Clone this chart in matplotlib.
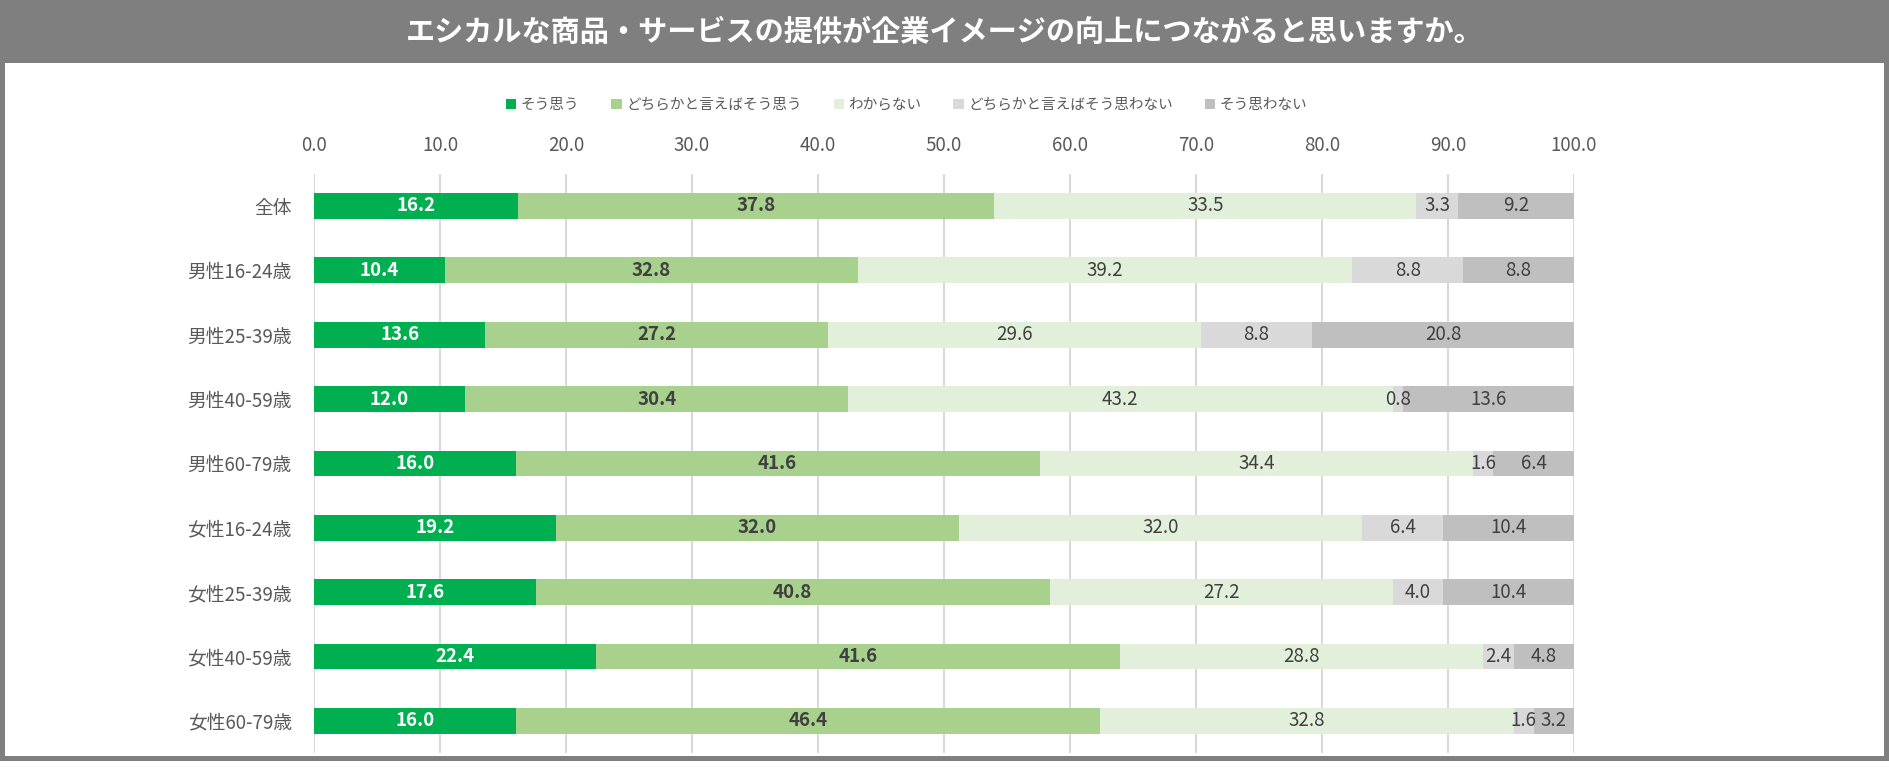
import numpy as np
import matplotlib
matplotlib.use("Agg")
import matplotlib.pyplot as plt
from matplotlib.patches import Rectangle

plt.rcParams['font.family'] = ['Noto Sans CJK JP', 'DejaVu Sans']

## data
title = "エシカルな商品・サービスの提供が企業イメージの向上につながると思いますか。"
groups = ["全体", "男性16-24歳", "男性25-39歳", "男性40-59歳", "男性60-79歳",
          "女性16-24歳", "女性25-39歳", "女性40-59歳", "女性60-79歳"]
series_names = ["そう思う", "どちらかと言えばそう思う", "わからない",
                "どちらかと言えばそう思わない", "そう思わない"]
sou_omou = [16.2, 10.4, 13.6, 12.0, 16.0, 19.2, 17.6, 22.4, 16.0]
dochira_sou = [37.8, 32.8, 27.2, 30.4, 41.6, 32.0, 40.8, 41.6, 46.4]
wakaranai = [33.5, 39.2, 29.6, 43.2, 34.4, 32.0, 27.2, 28.8, 32.8]
dochira_omowanai = [3.3, 8.8, 8.8, 0.8, 1.6, 6.4, 4.0, 2.4, 1.6]
omowanai = [9.2, 8.8, 20.8, 13.6, 6.4, 10.4, 10.4, 4.8, 3.2]
xticks = [0, 10, 20, 30, 40, 50, 60, 70, 80, 90, 100]

series = [sou_omou, dochira_sou, wakaranai, dochira_omowanai, omowanai]
colors = ["#00B050", "#A9D18E", "#E2EFDA", "#D9D9D9", "#BFBFBF"]
label_colors = ["white", "#404040", "#404040", "#404040", "#404040"]
label_weights = ["bold", "bold", "normal", "normal", "normal"]

W, H = 1889, 776
fig = plt.figure(figsize=(W / 100, H / 100), dpi=100)
fig.patch.set_facecolor("white")

## frame + title band
grey = "#7F7F7F"
def band(x, y, w, h):
    fig.add_artist(Rectangle((x / W, 1 - (y + h) / H), w / W, h / H,
                             transform=fig.transFigure, facecolor=grey,
                             edgecolor="none", zorder=0))

band(0, 0, W, 63)        # title band
band(0, 0, 5, 761)       # left edge
band(W - 5, 0, 5, 761)   # right edge
band(0, 756, W, 5)       # bottom edge
fig.text(0.5, 1 - 32 / H, title, color="white", fontsize=21, fontweight="bold",
         ha="center", va="center")

## plot area
x0, x1 = 314, 1574
ytop, ybot = 173.8, 753
ax = fig.add_axes([x0 / W, 1 - ybot / H, (x1 - x0) / W, (ybot - ytop) / H])

y = np.arange(len(groups))
left = np.zeros(len(groups))
handles = []
for vals, name, col, lc, lw in zip(series, series_names, colors, label_colors, label_weights):
    vals = np.array(vals)
    bars = ax.barh(y, vals, left=left, height=0.4, color=col, label=name, zorder=3)
    handles.append(bars)
    for yi, l, v in zip(y, left, vals):
        ax.text(l + v / 2, yi, f"{v:.1f}", ha="center", va="center", color=lc,
                fontsize=13.5, fontweight=lw, zorder=4)
    left += vals

ax.set_xlim(0, 100)
ax.set_ylim(len(groups) - 0.5, -0.5)
ax.set_yticks(y)
ax.set_yticklabels(groups)
ax.set_xticks(xticks)
ax.set_xticklabels([f"{t:.1f}" for t in xticks])
ax.xaxis.tick_top()
ax.tick_params(axis="x", length=0, pad=13, labelsize=13.5, labelcolor="#595959")
ax.tick_params(axis="y", length=0, pad=16, labelsize=13.5, labelcolor="#595959")
ax.grid(axis="x", color="#D9D9D9", linewidth=1.5, zorder=0)
ax.set_axisbelow(True)
for s in ax.spines.values():
    s.set_visible(False)

fig.legend(handles=handles, labels=series_names, loc="center", ncol=5,
           bbox_to_anchor=(0.48, 1 - 105 / H), frameon=False, fontsize=10.5,
           handlelength=0.7, handleheight=0.7, handletextpad=0.3,
           columnspacing=2.2, labelcolor="#595959")

fig.savefig("out.png", dpi=100, facecolor="white")
